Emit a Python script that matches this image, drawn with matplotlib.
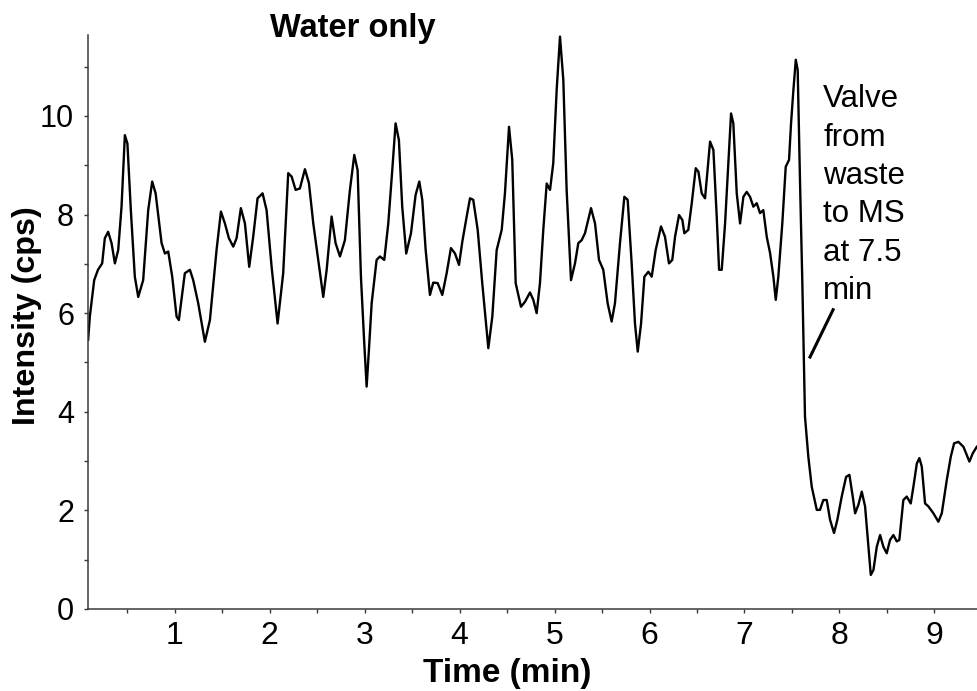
import matplotlib
matplotlib.use("Agg")
import matplotlib.pyplot as plt
from matplotlib.ticker import MultipleLocator

# ---- data ----
time_min = [
    0.086, 0.104, 0.15, 0.19, 0.234, 0.262, 0.297, 0.333, 0.368, 0.403,
    0.438, 0.473, 0.50, 0.536, 0.578, 0.614, 0.666, 0.719, 0.761, 0.797,
    0.86, 0.895, 0.93, 0.972, 1.018, 1.042, 1.105, 1.158, 1.193, 1.246,
    1.316, 1.369, 1.439, 1.485, 1.527, 1.569, 1.615, 1.65, 1.695, 1.738,
    1.783, 1.825, 1.871, 1.924, 1.966, 2.019, 2.082, 2.141, 2.194, 2.23,
    2.272, 2.317, 2.37, 2.412, 2.458, 2.51, 2.563, 2.599, 2.651, 2.693,
    2.739, 2.791, 2.844, 2.89, 2.925, 2.96, 2.995, 3.02, 3.044, 3.073,
    3.125, 3.16, 3.206, 3.248, 3.29, 3.325, 3.36, 3.395, 3.437, 3.487,
    3.536, 3.575, 3.606, 3.642, 3.687, 3.722, 3.768, 3.817, 3.863, 3.908,
    3.951, 3.993, 4.028, 4.074, 4.109, 4.143, 4.19, 4.238, 4.302, 4.344,
    4.39, 4.443, 4.477, 4.52, 4.554, 4.59, 4.646, 4.688, 4.741, 4.776,
    4.811, 4.846, 4.881, 4.917, 4.952, 4.986, 5.022, 5.057, 5.092, 5.127,
    5.173, 5.215, 5.25, 5.285, 5.32, 5.384, 5.426, 5.468, 5.513, 5.559,
    5.601, 5.636, 5.689, 5.735, 5.77, 5.812, 5.847, 5.876, 5.911, 5.946,
    5.988, 6.023, 6.065, 6.121, 6.163, 6.205, 6.24, 6.269, 6.311, 6.346,
    6.367, 6.409, 6.445, 6.487, 6.515, 6.55, 6.585, 6.638, 6.673, 6.708,
    6.733, 6.761, 6.796, 6.831, 6.859, 6.883, 6.919, 6.954, 6.989, 7.024,
    7.059, 7.094, 7.13, 7.164, 7.199, 7.235, 7.27, 7.305, 7.33, 7.357,
    7.399, 7.435, 7.47, 7.491, 7.516, 7.541, 7.561, 7.586, 7.61, 7.625,
    7.638, 7.673, 7.709, 7.762, 7.796, 7.831, 7.867, 7.902, 7.944, 7.979,
    8.025, 8.071, 8.106, 8.141, 8.166, 8.2, 8.236, 8.271, 8.306, 8.331,
    8.359, 8.394, 8.429, 8.464, 8.499, 8.534, 8.569, 8.605, 8.632, 8.674,
    8.71, 8.752, 8.78, 8.816, 8.843, 8.868, 8.903, 8.938, 8.991, 9.043,
    9.079, 9.132, 9.174, 9.209, 9.254, 9.307, 9.37, 9.406, 9.448,
]
intensity_cps = [
    5.46, 5.93, 6.67, 6.88, 7.01, 7.52, 7.65, 7.42, 7.01, 7.28,
    8.16, 9.61, 9.44, 8.09, 6.74, 6.33, 6.67, 8.09, 8.67, 8.43,
    7.42, 7.21, 7.25, 6.74, 5.93, 5.86, 6.81, 6.88, 6.67, 6.20,
    5.42, 5.86, 7.28, 8.06, 7.82, 7.52, 7.35, 7.52, 8.13, 7.82,
    6.94, 7.55, 8.33, 8.43, 8.09, 6.94, 5.79, 6.81, 8.84, 8.77,
    8.50, 8.53, 8.92, 8.64, 7.82, 7.08, 6.33, 6.88, 7.96, 7.42,
    7.15, 7.48, 8.50, 9.21, 8.90, 6.74, 5.39, 4.51, 5.25, 6.20,
    7.08, 7.15, 7.08, 7.82, 8.90, 9.85, 9.51, 8.16, 7.21, 7.62,
    8.40, 8.67, 8.30, 7.28, 6.37, 6.62, 6.61, 6.37, 6.81, 7.32,
    7.21, 6.98, 7.45, 7.96, 8.33, 8.30, 7.69, 6.61, 5.29, 5.93,
    7.28, 7.69, 8.43, 9.78, 9.11, 6.61, 6.13, 6.23, 6.42, 6.27,
    6.00, 6.61, 7.69, 8.63, 8.50, 9.04, 10.53, 11.61, 10.73, 8.50,
    6.67, 7.01, 7.42, 7.48, 7.62, 8.13, 7.82, 7.08, 6.88, 6.20,
    5.83, 6.20, 7.42, 8.36, 8.30, 7.01, 5.79, 5.22, 5.79, 6.74,
    6.84, 6.74, 7.28, 7.76, 7.55, 7.01, 7.08, 7.55, 7.99, 7.89,
    7.62, 7.69, 8.23, 8.94, 8.87, 8.43, 8.33, 9.48, 9.31, 7.96,
    6.88, 6.88, 7.82, 9.04, 10.05, 9.85, 8.43, 7.82, 8.36, 8.46,
    8.36, 8.16, 8.23, 8.03, 8.09, 7.55, 7.22, 6.74, 6.27, 6.74,
    7.82, 8.97, 9.11, 9.85, 10.53, 11.14, 10.93, 8.63, 6.61, 5.20,
    3.90, 3.09, 2.48, 2.01, 2.01, 2.21, 2.21, 1.81, 1.54, 1.81,
    2.28, 2.68, 2.72, 2.28, 1.94, 2.11, 2.38, 2.08, 1.26, 0.69,
    0.79, 1.26, 1.50, 1.26, 1.13, 1.40, 1.50, 1.37, 1.40, 2.21,
    2.28, 2.14, 2.48, 2.95, 3.06, 2.89, 2.14, 2.08, 1.94, 1.77,
    1.94, 2.62, 3.09, 3.36, 3.39, 3.29, 2.99, 3.16, 3.29,
]
x_ticks = [1, 2, 3, 4, 5, 6, 7, 8, 9]
y_ticks = [0, 2, 4, 6, 8, 10]
title_text = "Water only"
x_label = "Time (min)"
y_label = "Intensity (cps)"
note_text = "Valve\nfrom\nwaste\nto MS\nat 7.5\nmin"

plt.rcParams['font.family'] = ['Liberation Sans', 'DejaVu Sans']

fig = plt.figure(figsize=(9.77, 6.91), dpi=100)
ax = fig.add_axes([0.090, 0.1187, 0.910, 0.8305])

ax.plot(time_min, intensity_cps, color='black', lw=1.7, solid_joinstyle='round')

ax.set_xlim(0.084, 9.45)
ax.set_ylim(0, 11.64)
ax.set_xticks(x_ticks)
ax.set_yticks(y_ticks)
ax.xaxis.set_minor_locator(MultipleLocator(0.5))
ax.yaxis.set_minor_locator(MultipleLocator(1))

for s in ['top', 'right']:
    ax.spines[s].set_visible(False)
for s in ['left', 'bottom']:
    ax.spines[s].set_color('#3a3a3a')
    ax.spines[s].set_linewidth(1.1)

ax.tick_params(axis='both', which='both', direction='out', length=3,
               width=1, color='#3a3a3a')
ax.tick_params(axis='x', which='major', labelsize=23, pad=6)
ax.tick_params(axis='y', which='major', labelsize=22, pad=7)

ax.set_xlabel(x_label, fontsize=24, fontweight='bold')
ax.xaxis.set_label_coords((507.5 - 88) / 889, -(682 - 609) / 574)
ax.xaxis.label.set_va('baseline')
ax.set_ylabel(y_label, fontsize=23.2, fontweight='bold')
ax.yaxis.set_label_coords((42 - 88) / 889, 0.512)

fig.text(353 / 977, 1 - 36.5 / 691, title_text, fontsize=23.5,
         fontweight='bold', ha='center', va='baseline')

ax.text(7.83, 10.64, note_text, fontsize=22.5, ha='left', va='top',
        linespacing=1.36)
ax.plot([7.934, 7.691], [6.07, 5.11], color='black', lw=2.2)

fig.savefig("out.png", dpi=100)
